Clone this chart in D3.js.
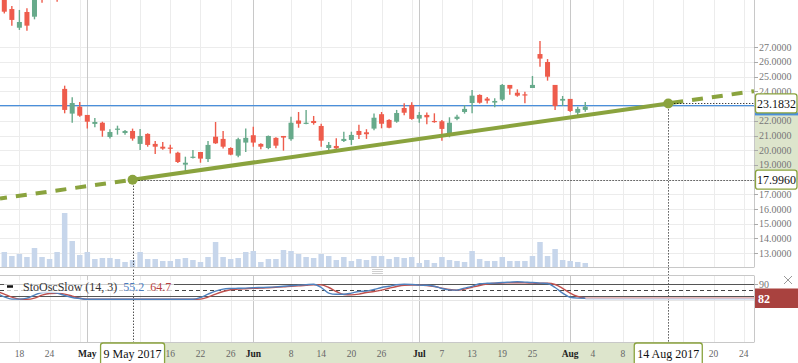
<!DOCTYPE html>
<html>
<head>
<meta charset="utf-8">
<script src="https://cdn.jsdelivr.net/npm/d3@7"></script>
<style>
  body { margin: 0; background: #fff; }
  svg { display: block; }
  text { font-family: "Liberation Serif", "Times New Roman", serif; }
</style>
</head>
<body>
<script>
// trading days shown on the chart
const tradeDates = [
  "2017-04-12","2017-04-13","2017-04-17","2017-04-18","2017-04-19","2017-04-20","2017-04-21",
  "2017-04-24","2017-04-25","2017-04-26","2017-04-27","2017-04-28",
  "2017-05-01","2017-05-02","2017-05-03","2017-05-04","2017-05-05",
  "2017-05-08","2017-05-09","2017-05-10","2017-05-11","2017-05-12",
  "2017-05-15","2017-05-16","2017-05-17","2017-05-18","2017-05-19",
  "2017-05-22","2017-05-23","2017-05-24","2017-05-25","2017-05-26",
  "2017-05-30","2017-05-31","2017-06-01","2017-06-02",
  "2017-06-05","2017-06-06","2017-06-07","2017-06-08","2017-06-09",
  "2017-06-12","2017-06-13","2017-06-14","2017-06-15","2017-06-16",
  "2017-06-19","2017-06-20","2017-06-21","2017-06-22","2017-06-23",
  "2017-06-26","2017-06-27","2017-06-28","2017-06-29","2017-06-30",
  "2017-07-03","2017-07-05","2017-07-06","2017-07-07",
  "2017-07-10","2017-07-11","2017-07-12","2017-07-13","2017-07-14",
  "2017-07-17","2017-07-18","2017-07-19","2017-07-20","2017-07-21",
  "2017-07-24","2017-07-25","2017-07-26","2017-07-27","2017-07-28",
  "2017-07-31","2017-08-01","2017-08-02","2017-08-03"
];
// empty calendar days after the last bar
const futureDates = [
  "2017-08-04","2017-08-05","2017-08-06","2017-08-07","2017-08-08","2017-08-09","2017-08-10",
  "2017-08-11","2017-08-12","2017-08-13","2017-08-14","2017-08-15","2017-08-16","2017-08-17",
  "2017-08-18","2017-08-19","2017-08-20","2017-08-21","2017-08-22","2017-08-23","2017-08-24","2017-08-25"
];

const openP  = [30.4,30.6,29.6,28.33,29.4,29.08,30.8,30.5,30.9,24.17,22.49,22.96,22.4,21.79,21.87,20.9,21.4,21.17,21.31,20.43,
  21.11,20.43,20.24,20.18,19.83,19.02,19.49,19.88,19.4,20.92,20.77,20.15,19.63,20.52,21.02,20.43,20.15,20.84,20.97,20.75,
  22.02,21.8,21.99,21.65,20.15,20.29,20.63,20.7,21.31,21.22,21.47,22.45,22.06,21.94,22.87,23.08,22.15,22.4,21.99,21.97,
  21.15,22.13,22.6,23.21,23.76,23.51,23.24,23.44,24.44,23.91,23.8,24.23,26.54,26.0,24.44,23.37,23.49,22.55,22.74];
const highP  = [31.0,30.9,29.81,29.54,29.65,30.6,31.0,31.2,31.3,24.39,23.6,23.28,22.4,22.19,21.94,21.43,21.67,21.38,21.47,21.45,
  21.15,20.63,20.56,20.38,19.9,19.56,20.02,19.88,20.63,21.92,21.31,20.2,20.85,21.47,21.6,20.47,21.0,20.88,20.97,22.28,
  22.6,22.74,22.33,21.8,20.56,20.81,21.26,21.26,21.74,21.43,22.49,22.6,22.1,22.74,23.19,23.26,22.6,22.56,22.51,22.06,
  22.24,22.42,23.06,24.1,23.8,23.62,23.53,24.5,24.44,24.14,23.98,25.05,27.43,26.2,24.44,23.69,23.49,22.96,23.28];
const lowP   = [29.9,29.3,28.47,28.18,28.13,28.9,30.03,30.3,30.1,22.51,21.87,22.28,21.47,21.56,20.92,20.79,21.06,21.06,20.65,20.02,
  20.24,19.75,20.04,19.77,19.13,18.54,19.43,19.15,19.2,20.43,20.11,19.66,19.52,19.88,20.24,20.07,20.07,20.13,19.97,20.65,
  21.53,21.77,21.74,20.24,20.0,20.0,20.56,20.36,20.77,20.77,21.36,21.49,21.5,21.87,22.38,22.08,21.87,21.77,21.87,20.65,
  20.88,22.04,22.49,22.51,23.17,23.17,22.92,23.35,23.78,23.64,23.19,24.23,25.68,24.73,22.74,23.01,22.6,22.33,22.62];
const closeP = [30.8,29.42,28.86,28.72,28.47,30.4,30.4,30.9,30.5,22.74,23.21,22.35,21.94,21.92,21.33,21.24,21.47,21.31,20.79,20.97,
  20.36,20.24,20.11,20.11,19.2,19.15,19.56,19.43,20.36,20.47,20.24,19.7,20.75,20.84,20.52,20.24,20.97,20.31,20.86,21.87,
  21.8,21.87,21.85,20.65,20.36,20.13,20.77,21.04,21.04,21.09,22.21,21.8,21.53,22.53,22.55,22.13,22.4,22.24,21.92,21.45,
  21.87,22.28,22.81,23.71,23.23,23.37,23.35,24.44,24.19,23.71,23.76,24.44,26.23,25.0,23.01,23.49,22.67,22.81,22.96];
const volume = [2.1,1.5,1.1,1.3,1.0,1.9,1.0,0.8,1.5,5.4,2.6,1.2,1.5,0.8,0.9,0.9,0.8,0.5,0.7,1.5,
  0.8,0.8,0.6,0.6,0.8,0.9,0.7,0.5,1.0,2.5,1.0,0.8,0.9,1.5,1.6,0.5,0.8,0.8,1.7,1.6,
  1.3,1.0,0.9,1.3,1.1,0.7,1.0,0.6,0.8,0.7,1.1,1.1,0.8,1.0,0.9,1.0,0.4,0.7,0.4,1.0,
  0.7,0.6,0.5,1.6,0.8,0.6,0.6,1.0,0.6,0.6,0.6,1.1,2.5,1.1,1.8,0.7,0.6,0.5,0.4];
// slow stochastic %K (blue) and %D (red)
const stochK = [35,17,6,6,11,26,39,40,36,24,14,9,5,5,5,5,5,5,5,5,5,5,5,5,5,5,5,14,31,46,
  56,59,60,61,63,64,65,67,70,73,76,78,80,64,36,30,30,36,44,46,54,64,70,78,80,79,76,75,70,59,
  52,51,61,70,83,85,86,89,91,93,91,89,86,84,64,36,15,11,10];
const stochD = [46,31,16,6,5,11,26,34,35,31,21,10,5,5,5,5,5,5,5,5,5,5,5,5,5,5,5,6,16,31,
  44,53,56,58,60,61,63,65,67,70,72,75,78,77,64,44,29,27,31,39,44,51,60,69,75,76,76,74,69,61,
  54,51,56,65,74,81,85,86,88,88,87,86,85,85,79,60,36,19,10];

const priceTicks = [13,14,15,16,17,18,19,20,21,22,23,24,25,26,27];
const gridDates = ["2017-04-18","2017-04-24","2017-04-28","2017-05-04","2017-05-10","2017-05-16","2017-05-22","2017-05-26",
  "2017-06-08","2017-06-14","2017-06-20","2017-06-26","2017-06-30","2017-07-07","2017-07-13","2017-07-19","2017-07-25",
  "2017-07-31","2017-08-04","2017-08-08","2017-08-12","2017-08-16","2017-08-20","2017-08-24"];
const monthDates = ["2017-05-01","2017-06-01","2017-07-03","2017-08-01"];
const monthLabels = ["May","Jun","Jul","Aug"];

const trendStart = { date: "2017-05-09", value: 17.996, label: "9 May 2017" };
const trendEnd   = { date: "2017-08-14", value: 23.1832, label: "14 Aug 2017" };
const lastPrice = 23.03;
const oscLevels = [80, 50, 20];
const oscLegend = { name: "StoOscSlow (14, 3)", k: "55.2", d: "64.7", last: "82", axis: "90" };

const W = 798, H = 363, plotR = 754;
const mainBottom = 267, oscTop = 276, axisY = 342;
const red = "#ee5c4c", green = "#67aa8b", trendCol = "#8aa33e", shade = "#dde5cc";

const svg = d3.select("body").append("svg").attr("width", W).attr("height", H);

const x = d3.scalePoint().domain(tradeDates.concat(futureDates)).range([-3.24, 751.26]);
const y = d3.scaleLinear().domain([12.06, 30.215]).range([mainBottom, 0]);
const yVol = d3.scaleLinear().domain([0, 10]).range([mainBottom, mainBottom - 100]);
const yOsc = d3.scaleLinear().domain([0, 100]).range([300.3, 280.3]);

const data = tradeDates.map((d, i) => ({
  date: d, o: openP[i], h: highP[i], l: lowP[i], c: closeP[i], v: volume[i], k: stochK[i], dd: stochD[i]
}));

svg.append("defs").append("clipPath").attr("id", "mainClip").append("rect")
  .attr("x", 0).attr("y", 0).attr("width", plotR).attr("height", mainBottom);

// shaded ranges on the axes
svg.append("rect").attr("x", plotR).attr("width", W - plotR)
  .attr("y", y(trendEnd.value)).attr("height", y(trendStart.value) - y(trendEnd.value)).attr("fill", shade);
svg.append("rect").attr("x", x(trendStart.date)).attr("width", x(trendEnd.date) - x(trendStart.date))
  .attr("y", axisY).attr("height", H - axisY).attr("fill", shade);

// grid
const grid = svg.append("g");
grid.selectAll(".hg").data(priceTicks).enter().append("line")
  .attr("x1", 0).attr("x2", plotR)
  .attr("y1", d => Math.round(y(d)) + 0.5).attr("y2", d => Math.round(y(d)) + 0.5)
  .attr("stroke", "#ececec");
[[0, mainBottom], [oscTop, axisY]].forEach(([y1, y2]) => {
  grid.selectAll(null).data(gridDates).enter().append("line")
    .attr("x1", d => Math.round(x(d)) + 0.5).attr("x2", d => Math.round(x(d)) + 0.5)
    .attr("y1", y1).attr("y2", y2).attr("stroke", "#ececec");
  grid.selectAll(null).data(monthDates).enter().append("line")
    .attr("x1", d => Math.round(x(d)) + 0.5).attr("x2", d => Math.round(x(d)) + 0.5)
    .attr("y1", y1).attr("y2", y2).attr("stroke", "#c8c8c8");
});
grid.append("line").attr("x1", 0).attr("x2", plotR).attr("y1", Math.round(yOsc(0)) + 0.5)
  .attr("y2", Math.round(yOsc(0)) + 0.5).attr("stroke", "#e6e6e6");

// volume
const main = svg.append("g").attr("clip-path", "url(#mainClip)");
main.selectAll(".vol").data(data).enter().append("rect")
  .attr("x", d => x(d.date) - 2.75).attr("width", 5.5)
  .attr("y", d => yVol(d.v)).attr("height", d => mainBottom - yVol(d.v))
  .attr("fill", "#c7d6eb");

// last price line
main.append("line").attr("x1", 0).attr("x2", plotR)
  .attr("y1", y(lastPrice)).attr("y2", y(lastPrice)).attr("stroke", "#4a8fdb").attr("stroke-width", 1.3);

// candles
const cg = main.selectAll(".candle").data(data).enter().append("g");
cg.append("line")
  .attr("x1", d => x(d.date)).attr("x2", d => x(d.date))
  .attr("y1", d => y(d.h)).attr("y2", d => y(d.l))
  .attr("stroke", d => d.c >= d.o ? green : red).attr("stroke-width", 1.4);
cg.append("rect")
  .attr("x", d => x(d.date) - 2.5).attr("width", 5)
  .attr("y", d => y(Math.max(d.o, d.c)))
  .attr("height", d => Math.max(1.2, Math.abs(y(d.o) - y(d.c))))
  .attr("fill", d => d.c >= d.o ? green : red);

// trend line
const ax = x(trendStart.date), ay = y(trendStart.value);
const bx = x(trendEnd.date), by = y(trendEnd.value);
const slope = (by - ay) / (bx - ax);
main.append("line").attr("x1", 0).attr("y1", ay - slope * ax).attr("x2", ax).attr("y2", ay)
  .attr("stroke", trendCol).attr("stroke-width", 4).attr("stroke-dasharray", "11,9")
  .attr("stroke-dashoffset", 4);
main.append("line").attr("x1", bx).attr("y1", by).attr("x2", plotR).attr("y2", by + slope * (plotR - bx))
  .attr("stroke", trendCol).attr("stroke-width", 4).attr("stroke-dasharray", "11,9")
  .attr("stroke-dashoffset", -4);
main.append("line").attr("x1", ax).attr("y1", ay).attr("x2", bx).attr("y2", by)
  .attr("stroke", trendCol).attr("stroke-width", 4);

// dotted guides
const dots = svg.append("g").attr("stroke", "#000").attr("stroke-width", 1).attr("stroke-dasharray", "1,2");
[[ax, ay], [bx, by]].forEach(([px, py]) => {
  dots.append("line").attr("x1", px).attr("x2", plotR).attr("y1", Math.round(py) + 0.5).attr("y2", Math.round(py) + 0.5);
  dots.append("line").attr("x1", Math.round(px) + 0.5).attr("x2", Math.round(px) + 0.5).attr("y1", py).attr("y2", axisY + 1);
});
svg.selectAll(".tp").data([[ax, ay], [bx, by]]).enter().append("circle")
  .attr("cx", d => d[0]).attr("cy", d => d[1]).attr("r", 5).attr("fill", trendCol);

// frames
const frame = svg.append("g").attr("stroke", "#c8c8c8").attr("fill", "none");
frame.append("line").attr("x1", 0).attr("x2", plotR).attr("y1", mainBottom + 0.5).attr("y2", mainBottom + 0.5);
frame.append("line").attr("x1", 0).attr("x2", plotR).attr("y1", oscTop - 0.5).attr("y2", oscTop - 0.5);
frame.append("line").attr("x1", 0).attr("x2", plotR).attr("y1", axisY + 0.5).attr("y2", axisY + 0.5);
frame.append("line").attr("x1", plotR + 0.5).attr("x2", plotR + 0.5).attr("y1", 0).attr("y2", mainBottom + 0.5);
frame.append("line").attr("x1", plotR + 0.5).attr("x2", plotR + 0.5).attr("y1", oscTop - 0.5).attr("y2", axisY + 0.5);
// panel handle
[269, 271, 273].forEach(hy => svg.append("line").attr("x1", 372).attr("x2", 383)
  .attr("y1", hy + 0.5).attr("y2", hy + 0.5).attr("stroke", "#cfcfcf"));

// price axis (labels under the value boxes are left out, as the boxes cover them)
const boxed = [trendEnd.value, trendStart.value];
const shownTicks = priceTicks.filter(t => boxed.every(b => Math.abs(y(t) - y(b)) > 12));
const pa = svg.append("g");
pa.selectAll(".pt").data(priceTicks).enter().append("line")
  .attr("x1", plotR).attr("x2", plotR + 4)
  .attr("y1", d => Math.round(y(d)) + 0.5).attr("y2", d => Math.round(y(d)) + 0.5).attr("stroke", "#aaa");
pa.selectAll(".pl").data(shownTicks).enter().append("text")
  .attr("x", plotR + 5).attr("y", d => y(d)).attr("dy", "0.35em")
  .attr("font-size", 10).attr("fill", "#777").text(d3.format(".4f"));

// value boxes on price axis
svg.append("rect").attr("x", plotR + 1).attr("width", W - plotR - 1)
  .attr("y", by + 9).attr("height", 3).attr("fill", "#4a8fdb");
function priceBox(v) {
  const g = svg.append("g");
  const r = g.append("rect").attr("x", plotR + 1.5).attr("y", y(v) - 9.5).attr("height", 19)
    .attr("rx", 2.5).attr("fill", "#fff").attr("stroke", trendCol).attr("stroke-width", 1.3);
  const t = g.append("text").attr("x", plotR + 3).attr("y", y(v)).attr("dy", "0.36em")
    .attr("font-size", 12).attr("fill", "#111").text(d3.format(".4f")(v));
  r.attr("width", Math.min(W - plotR - 2.5, t.node().getComputedTextLength() + 4));
}
boxed.forEach(priceBox);

// date axis
const da = svg.append("g");
const boxes = [trendStart, trendEnd].map(p => {
  const g = svg.append("g");
  const r = g.append("rect").attr("y", axisY + 1).attr("height", 22).attr("rx", 2.5)
    .attr("fill", "#fff").attr("stroke", trendCol).attr("stroke-width", 1.3);
  const t = g.append("text").attr("x", x(p.date)).attr("y", 358).attr("text-anchor", "middle")
    .attr("font-size", 12).attr("fill", "#111").text(p.label);
  const w = t.node().getComputedTextLength() + 6;
  r.attr("x", x(p.date) - w / 2).attr("width", w);
  return [x(p.date) - w / 2 - 4, x(p.date) + w / 2 + 4];
});
da.selectAll(".ml").data(monthDates).enter().append("text")
  .attr("x", d => x(d)).attr("y", 357).attr("text-anchor", "middle")
  .attr("font-size", 9.5).attr("font-weight", "bold").attr("fill", "#222")
  .text((d, i) => monthLabels[i]);
const freeDates = gridDates.filter(d => {
  const px = x(d);
  if (monthDates.some(m => Math.abs(x(m) - px) < 14)) return false;
  if (boxes.some(b => px > b[0] && px < b[1])) return false;
  return px < plotR;
});
da.selectAll(".dl").data(freeDates).enter().append("text")
  .attr("x", d => x(d)).attr("y", 357).attr("text-anchor", "middle")
  .attr("font-size", 9.5).attr("fill", "#666")
  .text(d => +d.slice(8));

// oscillator
const osc = svg.append("g");
oscLevels.forEach(v => {
  osc.append("line").attr("x1", 0).attr("x2", plotR)
    .attr("y1", Math.round(yOsc(v)) + 0.5).attr("y2", Math.round(yOsc(v)) + 0.5)
    .attr("stroke", v === 50 ? "#444" : "#555").attr("stroke-width", 1)
    .attr("stroke-dasharray", v === 50 ? "4,3" : null);
});
const lastX = x(tradeDates[tradeDates.length - 1]);
osc.append("line").attr("x1", lastX).attr("x2", plotR)
  .attr("y1", yOsc(stochK[stochK.length - 1]) + 0.5).attr("y2", yOsc(stochK[stochK.length - 1]) + 0.5)
  .attr("stroke", "#b9cde9").attr("stroke-width", 1.5);
osc.append("line").attr("x1", lastX).attr("x2", plotR)
  .attr("y1", yOsc(stochD[stochD.length - 1]) - 0.5).attr("y2", yOsc(stochD[stochD.length - 1]) - 0.5)
  .attr("stroke", "#eab9b9").attr("stroke-width", 1.5);
const lineK = d3.line().x(d => x(d.date)).y(d => yOsc(d.k)).curve(d3.curveMonotoneX);
const lineD = d3.line().x(d => x(d.date)).y(d => yOsc(d.dd)).curve(d3.curveMonotoneX);
osc.append("path").attr("d", lineD(data)).attr("fill", "none").attr("stroke", "#c0504d").attr("stroke-width", 1.4);
osc.append("path").attr("d", lineK(data)).attr("fill", "none").attr("stroke", "#4f81bd").attr("stroke-width", 1.4);

// oscillator legend
osc.append("rect").attr("x", 4).attr("y", 280).attr("width", 170).attr("height", 13)
  .attr("fill", "#fff").attr("opacity", 0.72);
osc.append("line").attr("x1", 7).attr("x2", 13).attr("y1", 286.5).attr("y2", 286.5)
  .attr("stroke", "#111").attr("stroke-width", 2.5);
const lt = osc.append("text").attr("x", 23).attr("y", 291).attr("font-size", 12).attr("fill", "#333");
lt.append("tspan").text(oscLegend.name);
lt.append("tspan").attr("dx", 6).attr("fill", "#4b7dbf").text(oscLegend.k);
lt.append("tspan").attr("dx", 6).attr("fill", "#b84141").text(oscLegend.d);

// oscillator axis
osc.append("line").attr("x1", plotR).attr("x2", plotR + 4)
  .attr("y1", Math.round(yOsc(oscLevels[0])) + 0.5).attr("y2", Math.round(yOsc(oscLevels[0])) + 0.5).attr("stroke", "#aaa");
osc.append("text").attr("x", plotR + 5).attr("y", yOsc(oscLevels[0])).attr("dy", "0.35em")
  .attr("font-size", 10).attr("fill", "#777").text(oscLegend.axis);
osc.append("rect").attr("x", plotR + 1).attr("y", 288.5).attr("width", W - plotR - 1).attr("height", 19.5)
  .attr("fill", "#a9423f");
osc.append("text").attr("x", plotR + 4).attr("y", 302.5).attr("font-size", 12).attr("font-weight", "bold")
  .attr("fill", "#fff").text(oscLegend.last);
// close icon
osc.append("path").attr("d", "M784,276 L792,284 M792,276 L784,284").attr("stroke", "#999").attr("stroke-width", 1);
</script>
</body>
</html>
